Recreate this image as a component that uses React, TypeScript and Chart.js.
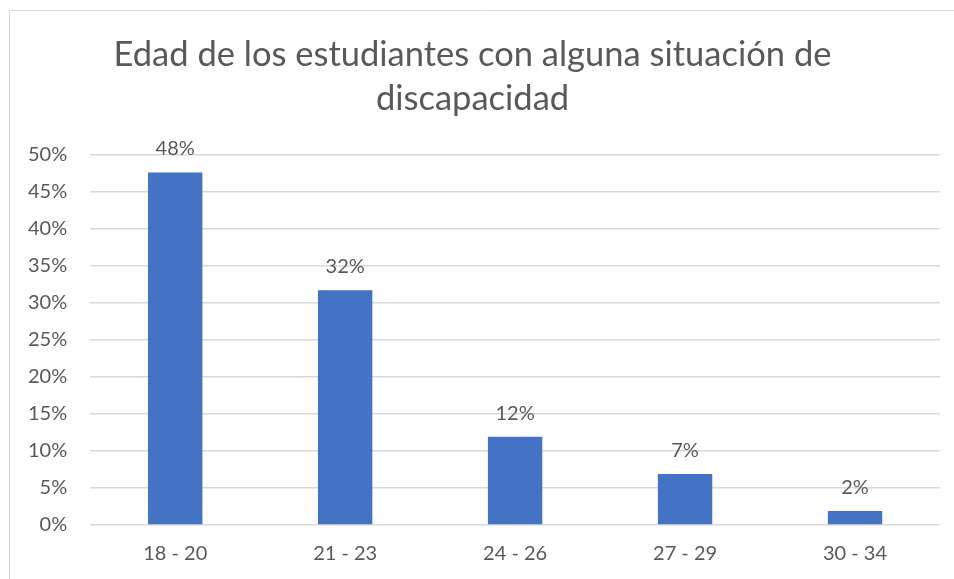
import React, { useEffect, useRef } from "react";
import { Chart, registerables } from "chart.js";

Chart.register(...registerables);

const titleLines = ["Edad de los estudiantes con alguna situación de", "discapacidad"];
const categories = ["18 - 20", "21 - 23", "24 - 26", "27 - 29", "30 - 34"];
const values = [47.6, 31.7, 11.9, 6.9, 1.9];
const yMax = 50;
const yStep = 5;

const FONT = "Lato, 'Open Sans', sans-serif";
const TEXT = "#595959";

const dataLabels = {
  id: "dataLabels",
  afterDatasetsDraw(chart: any) {
    const ctx = chart.ctx;
    const meta = chart.getDatasetMeta(0);
    ctx.save();
    ctx.fillStyle = TEXT;
    ctx.font = `20px ${FONT}`;
    ctx.textAlign = "center";
    ctx.textBaseline = "alphabetic";
    meta.data.forEach((bar: any, i: number) => {
      ctx.fillText(Math.round(values[i]) + "%", bar.x, bar.y - 17);
    });
    ctx.restore();
  },
};

const frame = {
  id: "frame",
  beforeDraw(chart: any) {
    const ctx = chart.ctx;
    ctx.save();
    ctx.fillStyle = "#ffffff";
    ctx.fillRect(0, 0, chart.width, chart.height);
    ctx.strokeStyle = "#d9d9d9";
    ctx.lineWidth = 1;
    ctx.beginPath();
    ctx.moveTo(9.5, chart.height);
    ctx.lineTo(9.5, 10.5);
    ctx.lineTo(chart.width, 10.5);
    ctx.stroke();
    ctx.restore();
  },
};

export default function App() {
  const ref = useRef<HTMLCanvasElement>(null);
  useEffect(() => {
    if (!ref.current) return;
    const chart = new Chart(ref.current, {
      type: "bar",
      data: {
        labels: categories,
        datasets: [
          {
            data: values,
            backgroundColor: "#4472C4",
            categoryPercentage: 1,
            barPercentage: 0.32,
          },
        ],
      },
      options: {
        animation: false,
        responsive: false,
        layout: { padding: { left: 5, right: 14, top: 22, bottom: 4 } },
        plugins: {
          legend: { display: false },
          tooltip: { enabled: false },
          title: {
            display: true,
            text: titleLines,
            color: TEXT,
            font: { family: FONT, size: 34.5, weight: "normal", lineHeight: 1.3 },
            padding: { top: 10, bottom: 33 },
          },
        },
        scales: {
          x: {
            grid: { display: false },
            border: { display: false },
            ticks: { color: TEXT, font: { family: FONT, size: 20 }, padding: 9 },
          },
          y: {
            min: 0,
            max: yMax,
            ticks: {
              stepSize: yStep,
              color: TEXT,
              font: { family: FONT, size: 20 },
              padding: 23,
              callback: (v: any) => v + "%",
            },
            grid: { color: "#d9d9d9", lineWidth: 1.5, drawTicks: false },
            border: { display: false },
          },
        },
      },
      plugins: [frame, dataLabels],
    });
    return () => chart.destroy();
  }, []);
  return (
    <canvas
      ref={ref}
      width={954}
      height={579}
      style={{ position: "fixed", left: 0, top: 0, width: 954, height: 579 }}
    />
  );
}
